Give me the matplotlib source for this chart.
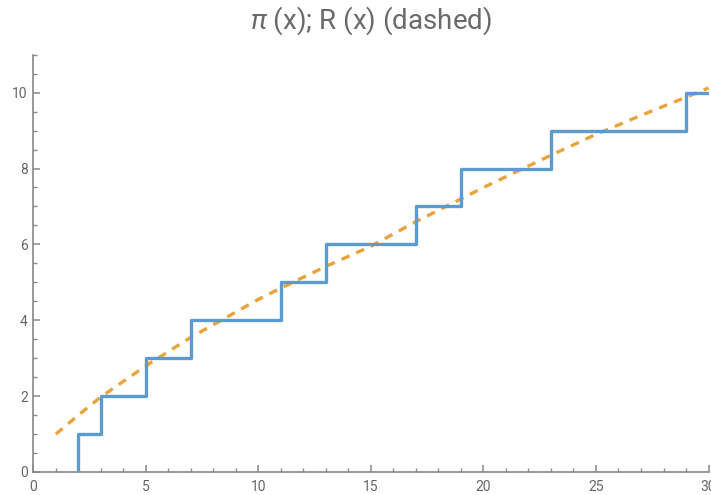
import numpy as np
import matplotlib.pyplot as plt

# prime counting function pi(x), step at each prime
primes = [2, 3, 5, 7, 11, 13, 17, 19, 23, 29]
pi_counts = [1, 2, 3, 4, 5, 6, 7, 8, 9, 10]

# Riemann R(x), values
r_x = [1, 2, 3, 5, 7, 10, 11, 13, 15, 17, 19, 20, 23, 25, 27, 30]
r_y = [1.0, 1.5, 1.98, 2.8, 3.55, 4.55, 4.85, 5.42, 5.95, 6.6, 7.2, 7.5, 8.35, 8.9, 9.4, 10.12]

plt.rcParams['font.family'] = ['Roboto', 'DejaVu Sans']
plt.rcParams['mathtext.fontset'] = 'custom'
plt.rcParams['mathtext.rm'] = 'Roboto'
plt.rcParams['mathtext.it'] = 'Roboto:italic'
fig = plt.figure(figsize=(7.11, 4.95), dpi=100)
ax = fig.add_axes([0.047, 0.0465, 0.9495, 0.843])

xs = [primes[0]] + primes + [30]
ys = [0] + pi_counts + [pi_counts[-1]]
ax.step(xs, ys, where='post', color='#5b9bcf', lw=2.4, zorder=3)
ax.plot(r_x, r_y, color='#e8a33c', lw=2.4, linestyle=(0, (2.6, 2.2)), zorder=2)

ax.set_xlim(0, 30)
ax.set_ylim(0, 11)
ax.set_xticks(np.arange(0, 31, 5))
ax.set_xticks(np.arange(0, 31, 1), minor=True)
ax.set_yticks(np.arange(0, 11, 2))
ax.set_yticks(np.arange(0, 11.01, 0.5), minor=True)

for s in ['top', 'right']:
    ax.spines[s].set_visible(False)
for s in ['left', 'bottom']:
    ax.spines[s].set_color('#888888')
    ax.spines[s].set_linewidth(1.2)
ax.tick_params(which='both', direction='in', colors='#888888', labelcolor='#666666', labelsize=10)
ax.tick_params(which='major', length=5, width=1.1)
ax.tick_params(which='minor', length=3, width=1.0)
ax.tick_params(axis='x', pad=6)
ax.tick_params(axis='y', pad=4)

# title is centred over the plot area, not the figure
fig.text(0.522, 0.958, r'$\pi$ (x); R (x) (dashed)', ha='center', va='center',
         fontsize=20, color='#6a6a6a')
fig.savefig('out.png', dpi=100)
